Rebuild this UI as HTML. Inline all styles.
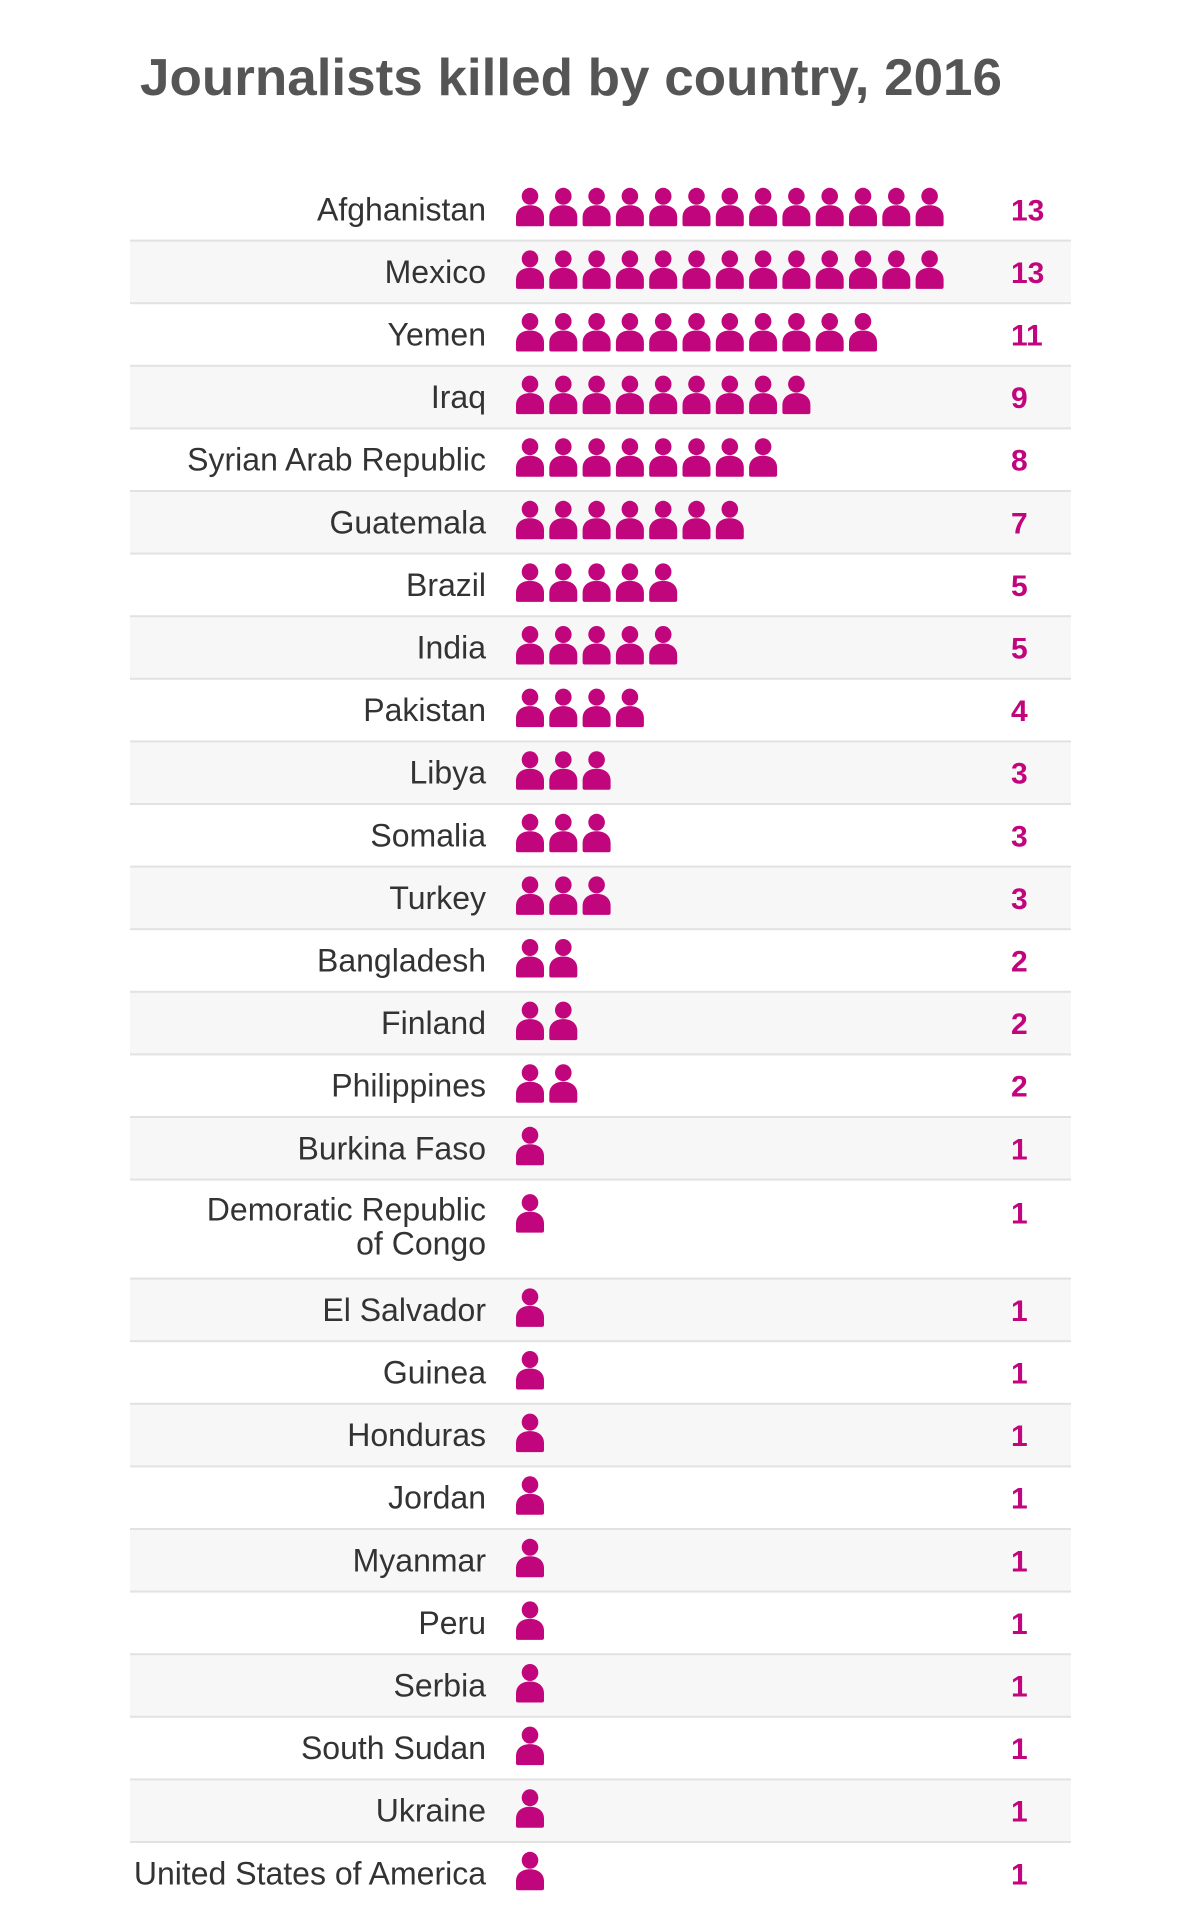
<!DOCTYPE html>
<html><head><meta charset="utf-8">
<style>
html,body{margin:0;padding:0;background:#fff;}
svg{display:block;}
</style></head>
<body>
<svg id="chart" width="1200" height="1927" viewBox="0 0 1200 1927" xmlns="http://www.w3.org/2000/svg">
<text x="140" y="95" font-family="Liberation Sans, sans-serif" font-weight="bold" font-size="52" fill="#555" textLength="862" lengthAdjust="spacingAndGlyphs">Journalists killed by country, 2016</text>
<g id="rows"></g>
</svg>
<script>
const countries = ["Afghanistan","Mexico","Yemen","Iraq","Syrian Arab Republic","Guatemala","Brazil","India","Pakistan","Libya","Somalia","Turkey","Bangladesh","Finland","Philippines","Burkina Faso","Demoratic Republic|of Congo","El Salvador","Guinea","Honduras","Jordan","Myanmar","Peru","Serbia","South Sudan","Ukraine","United States of America"];
const killed = [13,13,11,9,8,7,5,5,4,3,3,3,2,2,2,1,1,1,1,1,1,1,1,1,1,1,1];

const NS = "http://www.w3.org/2000/svg";
const rowsG = document.getElementById("rows");
const rowTop0 = 178, rowH = 62.6, rowH2 = 99;
const tableL = 130, tableR = 1071;
const labelR = 486, iconX0 = 516, iconPitch = 33.3, numX = 1011;
const color = "#c1057d";
function el(tag, attrs){const e=document.createElementNS(NS,tag);for(const k in attrs)e.setAttribute(k,attrs[k]);return e;}
let rowY = rowTop0;
countries.forEach((c, i) => {
  const lines = c.split("|");
  const h = lines.length > 1 ? rowH2 : rowH;
  const row = el("g", {});
  
  
  if (i % 2 === 1) {
    const bg = el("rect", {x: tableL, y: rowY, width: tableR - tableL, height: h, fill: "#f7f7f7"});
    
    
    row.appendChild(bg);
  }
  if (i > 0) {
    const ln = el("rect", {x: tableL, y: rowY - 1, width: tableR - tableL, height: 2, fill: "#e2e2e2"});
    
    
    row.appendChild(ln);
  }
  const iconTop = lines.length > 1 ? rowY + 14 : rowY + h / 2 - 22;
  const base = lines.length > 1 ? rowY + 41 : rowY + h / 2 + 11;
  lines.forEach((t, li) => {
    const tx = el("text", {x: labelR, y: base + li * 34, "text-anchor": "end", "font-family": "Liberation Sans, sans-serif", "font-size": "32", fill: "#333"});
    tx.textContent = t;
    
    
    row.appendChild(tx);
  });
  for (let k = 0; k < killed[i]; k++) {
    const x = iconX0 + k * iconPitch;
    const ic = el("g", {fill: color, transform: "translate(" + x + "," + iconTop + ")"});
    
    
    ic.appendChild(el("ellipse", {cx: 14, cy: 9, rx: 8.3, ry: 8.5}));
    ic.appendChild(el("path", {d: "M0,37 L0,30 C0,23 5,18 14,18 C23,18 28,23 28,30 L28,37 Q28,39 26,39 L2,39 Q0,39 0,37 Z"}));
    row.appendChild(ic);
  }
  const n = el("text", {x: numX, y: lines.length > 1 ? base + 3 : base, "font-family": "Liberation Sans, sans-serif", "font-size": "30", "font-weight": "bold", fill: color});
  n.textContent = killed[i];
  
  
  row.appendChild(n);
  rowsG.appendChild(row);
  rowY += h;
});
</script>
</body></html>
